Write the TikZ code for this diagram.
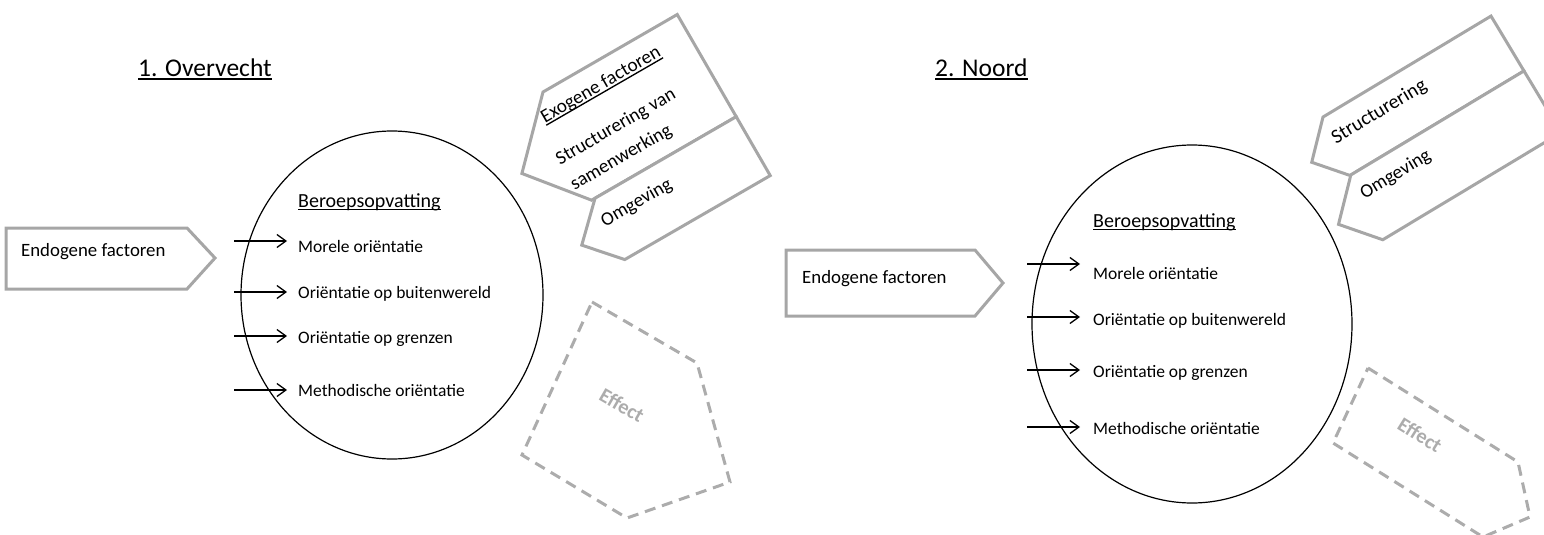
\documentclass[tikz,border=0pt]{standalone}
\usepackage{fontspec}
\setmainfont{Carlito}
\usetikzlibrary{shapes.geometric,arrows.meta}
\definecolor{boxgray}{RGB}{166,166,166}
\definecolor{effgray}{RGB}{172,172,172}
% underline set close to the baseline, crossing descenders
\newcommand\ulin[1]{\leavevmode\setbox0\hbox{#1}\rlap{\rule[-0.16em]{\wd0}{0.07em}}\box0}
\begin{document}
\begin{tikzpicture}[x=1pt,y=-1pt,
  title/.style={font=\fontsize{25.5}{30}\selectfont, anchor=base west, inner sep=0pt},
  item/.style={font=\fontsize{17.5}{21}\selectfont, anchor=base west, inner sep=0pt},
  head/.style={font=\fontsize{20}{24}\selectfont, anchor=base west, inner sep=0pt},
  endo/.style={font=\fontsize{18.8}{22}\selectfont, anchor=base west, inner sep=0pt},
  boxtext/.style={font=\fontsize{19.2}{23}\selectfont, anchor=base west, inner sep=0pt},
  grayshape/.style={draw=boxgray, line width=3pt, fill=white, line join=miter},
  effshape/.style={draw=effgray, line width=3pt, dash pattern=on 11pt off 7pt},
  efftext/.style={font=\bfseries\fontsize{20.5}{24}\selectfont, text=effgray, inner sep=0pt},
  core/.style={ellipse, draw=black, line width=1.2pt, inner sep=0pt},
  arr/.style={-{Straight Barb[length=9pt,width=13pt]}, line width=1.3pt}
]
\useasboundingbox (0,0) rectangle (1544,535);
\clip (0,0) rectangle (1544,535);

% ---------------- 1. Overvecht ----------------
\node[title] (t1) at (138,76) {\ulin{1. Overvecht}};

\draw[grayshape] (6,228) -- (187,228) -- (215,258) -- (187,289) -- (6,289) -- cycle;
\node[endo] (endo1) at (21,256) {Endogene factoren};

\node[core, minimum width=302pt, minimum height=328pt] (bv1) at (392,295) {};
\node[head] (h1) at (298,207) {\ulin{Beroepsopvatting}};
\node[item] (l1a) at (298,252) {Morele oriëntatie};
\node[item] (l1b) at (298,298) {Oriëntatie op buitenwereld};
\node[item] (l1c) at (298,343) {Oriëntatie op grenzen};
\node[item] (l1d) at (298,396) {Methodische oriëntatie};
\coordinate (s1a) at (234,241);
\coordinate (s1b) at (234,292);
\coordinate (s1c) at (234,336);
\coordinate (s1d) at (234,390);
\foreach \k in {a,b,c,d}
  \draw[arr, shorten >=11pt] (s1\k) -- (s1\k -| l1\k.west);

% exogenous factors: two stacked tags sharing one edge
\begin{scope}[shift={(543,92)}, rotate=30, transform shape]
  \draw[grayshape] (0,0) -- (155,0) -- (155,118) -- (-12,118) -- (-59,60) -- cycle;
  \node[boxtext] (exo1) at (-14,28) {\ulin{Exogene factoren}};
  \node[boxtext] (str1a) at (-22,72) {Structurering van};
  \node[boxtext] (str1b) at (-22,101) {samenwerking};
  \draw[grayshape] (-8,118) -- (155,118) -- (155,186) -- (-13,186) -- (-43,152) -- cycle;
  \node[boxtext] (omg1) at (-14,148) {Omgeving};
\end{scope}

\draw[effshape] (592,302) -- (697,363) -- (730,482) -- (627,518) -- (522,455) -- cycle;
\node[efftext, rotate=-30] (eff1) at (622,405) {Effect};

% ---------------- 2. Noord ----------------
\node[title] (t2) at (935,76) {\ulin{2. Noord}};

\draw[grayshape] (786,250) -- (975,250) -- (1003,283) -- (975,316) -- (786,316) -- cycle;
\node[endo] (endo2) at (802,283) {Endogene factoren};

\node[core, minimum width=320pt, minimum height=358pt] (bv2) at (1192,324) {};
\node[head] (h2) at (1093,227) {\ulin{Beroepsopvatting}};
\node[item] (l2a) at (1093,279) {Morele oriëntatie};
\node[item] (l2b) at (1093,325) {Oriëntatie op buitenwereld};
\node[item] (l2c) at (1093,377) {Oriëntatie op grenzen};
\node[item] (l2d) at (1093,434) {Methodische oriëntatie};
\coordinate (s2a) at (1027,264);
\coordinate (s2b) at (1027,317);
\coordinate (s2c) at (1027,370);
\coordinate (s2d) at (1027,427);
\foreach \k in {a,b,c,d}
  \draw[arr, shorten >=13pt] (s2\k) -- (s2\k -| l2\k.west);

\begin{scope}[shift={(1323,117)}, rotate=31, transform shape]
  \draw[grayshape] (0,0) -- (196,0) -- (196,64) -- (-7,64) -- (-33,33) -- cycle;
  \node[boxtext, font=\fontsize{20}{24}\selectfont] (str2) at (-3,30) {Structurering};
  \draw[grayshape] (-6,64) -- (196,64) -- (196,136) -- (-12,136) -- (-42,100) -- cycle;
  \node[boxtext] (omg2) at (-7,92) {Omgeving};
\end{scope}

\draw[effshape] (1368,368) -- (1518,462) -- (1530,517) -- (1483,537) -- (1333,443) -- cycle;
\node[efftext, rotate=-32] (eff2) at (1420,435) {Effect};
\end{tikzpicture}
\end{document}
